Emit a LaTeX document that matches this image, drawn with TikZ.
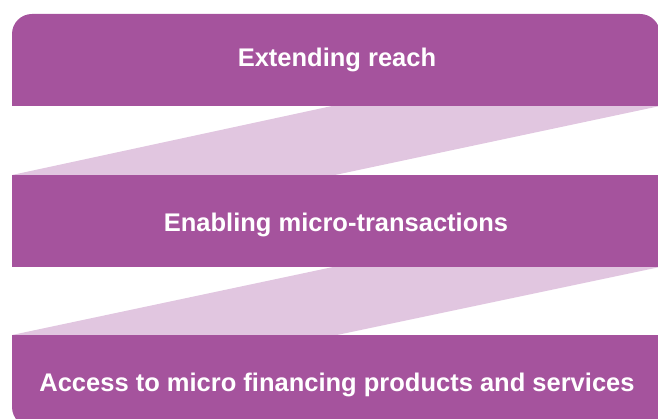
\documentclass[tikz,border=0pt]{standalone}
\usepackage{fontspec}
\setmainfont{Liberation Sans}
\definecolor{darkpurple}{HTML}{A5539D}
\definecolor{lightpurple}{HTML}{E1C6E0}
\begin{document}
\begin{tikzpicture}[x=1pt,y=-1pt,
  band/.style={fill=darkpurple},
  ribbon/.style={fill=lightpurple},
  label/.style={text=white,font=\bfseries\fontsize{25.5}{30}\selectfont,anchor=base,inner sep=0pt}]
\useasboundingbox (0,0) rectangle (658,419);
\clip (0,0) rectangle (658,419);
% ribbons
\fill[ribbon] (12,175) -- (332,106) -- (660,106) -- (335,175) -- cycle;
\fill[ribbon] (12,335) -- (333,267) -- (660,267) -- (337,335) -- cycle;
% bands
\fill[band] (12,106) [rounded corners=20pt] -- (12,14) -- (660,14) [sharp corners] -- (660,106) -- cycle;
\fill[band] (12,175) rectangle (662,267);
\fill[band] (662,335) -- (12,335) [rounded corners=20pt] -- (12,427) [sharp corners] -- (662,427) -- cycle;
% labels
\node[label] (t1) at (337,67) {Extending reach};
\node[label] (t2) at (336,232) {Enabling micro-transactions};
\node[label] (t3) at (337,391) {Access to micro financing products and services};
\end{tikzpicture}
\end{document}
